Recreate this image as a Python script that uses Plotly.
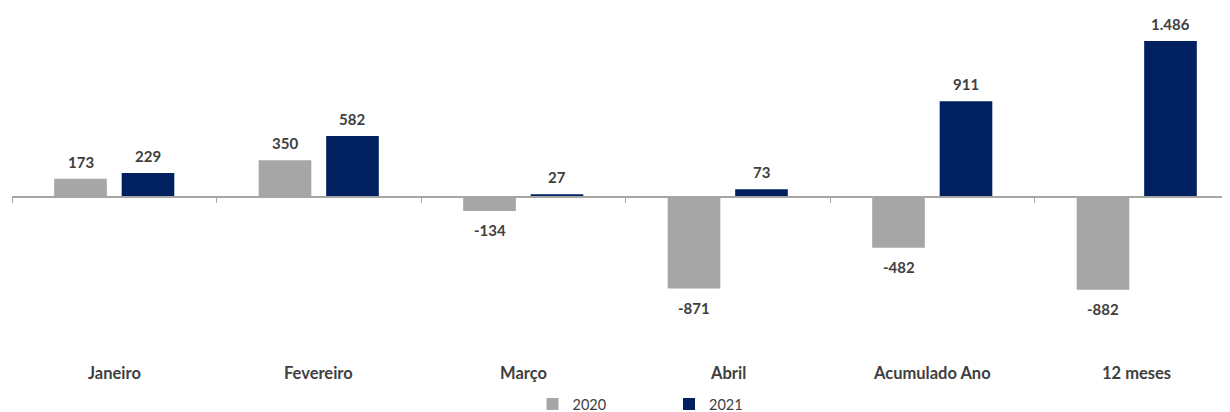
import plotly.graph_objects as go

categories = ["Janeiro", "Fevereiro", "Março", "Abril", "Acumulado Ano", "12 meses"]
values_2020 = [173, 350, -134, -871, -482, -882]
values_2021 = [229, 582, 27, 73, 911, 1486]
series_names = ["2020", "2021"]

GRAY = "#A6A6A6"
NAVY = "#002060"
TEXT = "#404040"
FONT = "Lato"

# page is offset by the default 8px body margin
W, H = 1230, 412
PLOT_L = 4            # fig px (page 12)
PLOT_W = W - PLOT_L
CAT_PX = 204.5
ZERO_Y = 189.5        # fig px (page 197.5)
SCALE = 0.1053        # px per unit

def fmt(v):
    return f"{v:,}".replace(",", ".")

fig = go.Figure()
fig.add_trace(go.Bar(name=series_names[0], x=categories, y=values_2020,
                     marker=dict(color=GRAY, line=dict(width=0))))
fig.add_trace(go.Bar(name=series_names[1], x=categories, y=values_2021,
                     marker=dict(color=NAVY, line=dict(width=0))))

annotations = []
offsets = [-0.165, 0.165]
for s, vals in enumerate([values_2020, values_2021]):
    for i, v in enumerate(vals):
        annotations.append(dict(
            x=i + offsets[s], y=v, xref="x", yref="y",
            text=f"<b>{fmt(v)}</b>", showarrow=False,
            yanchor="bottom" if v >= 0 else "top",
            yshift=6 if v >= 0 else -8,
            font=dict(family=FONT, size=15, color=TEXT),
        ))
for i, c in enumerate(categories):
    annotations.append(dict(
        x=i, y=1 - 366 / H, xref="x", yref="paper",
        text=f"<b>{c}</b>", showarrow=False, yanchor="middle",
        font=dict(family=FONT, size=16.5, color=TEXT),
    ))

fig.update_layout(
    width=W, height=H,
    margin=dict(l=PLOT_L, r=0, t=0, b=0),
    paper_bgcolor="white", plot_bgcolor="white",
    barmode="group", bargap=0.34, bargroupgap=0.22,
    showlegend=True,
    legend=dict(orientation="h", x=520.5 / PLOT_W, xanchor="left",
                y=1 - 397 / H, yanchor="middle",
                font=dict(family=FONT, size=14.5, color=TEXT),
                entrywidth=91.5, entrywidthmode="pixels",
                bgcolor="rgba(0,0,0,0)", itemwidth=30),
    xaxis=dict(range=[-0.5, -0.5 + PLOT_W / CAT_PX], anchor="free",
               position=1 - ZERO_Y / H,
               showline=True, linecolor="#A6A6A6", linewidth=1.5,
               ticks="outside", tickson="boundaries", ticklen=5,
               tickcolor="#A6A6A6", tickwidth=1,
               showticklabels=False, showgrid=False, zeroline=False,
               fixedrange=True),
    yaxis=dict(range=[-(H - ZERO_Y) / SCALE, ZERO_Y / SCALE],
               visible=False, showgrid=False, zeroline=False),
    annotations=annotations,
)

fig.write_html("out.html")
